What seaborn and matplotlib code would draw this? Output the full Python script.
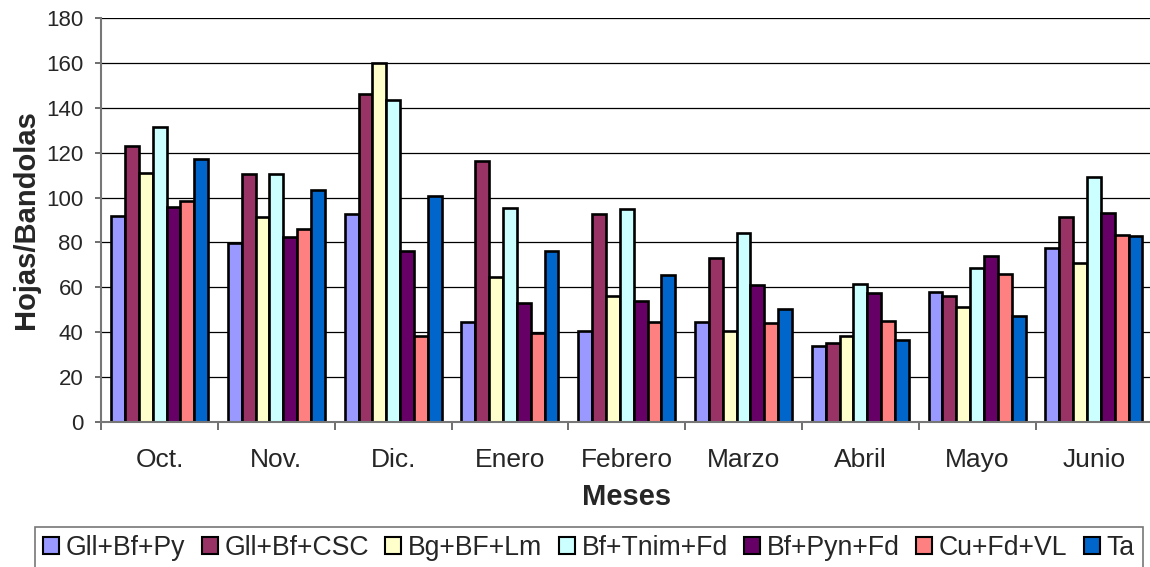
import pandas as pd
import seaborn as sns
import matplotlib.pyplot as plt
from matplotlib.patches import Patch

# months on the x axis
meses = ['Oct.', 'Nov.', 'Dic.', 'Enero', 'Febrero', 'Marzo', 'Abril', 'Mayo', 'Junio']

# one list per treatment
gll_bf_py = [92.0, 79.6, 92.6, 44.3, 40.3, 44.3, 33.6, 58.1, 77.3]
gll_bf_csc = [122.8, 110.3, 146.0, 116.4, 92.8, 73.2, 35.2, 56.2, 91.4]
bg_bf_lm = [110.8, 91.4, 160.0, 64.8, 55.9, 40.6, 38.5, 51.3, 70.9]
bf_tnim_fd = [131.6, 110.5, 143.6, 95.5, 95.0, 84.0, 61.4, 68.6, 109.1]
bf_pyn_fd = [95.6, 82.2, 76.3, 53.2, 53.7, 60.8, 57.4, 73.8, 93.2]
cu_fd_vl = [98.4, 85.9, 38.1, 39.6, 44.3, 44.0, 45.1, 65.7, 83.4]
ta = [117.0, 103.3, 100.7, 76.0, 65.6, 50.3, 36.3, 47.3, 83.0]

tratamientos = ['Gll+Bf+Py', 'Gll+Bf+CSC', 'Bg+BF+Lm', 'Bf+Tnim+Fd',
                'Bf+Pyn+Fd', 'Cu+Fd+VL', 'Ta']
colores = ['#9999FF', '#993366', '#FFFFCC', '#CCFFFF',
           '#660066', '#FF8080', '#0066CC']

series = [gll_bf_py, gll_bf_csc, bg_bf_lm, bf_tnim_fd, bf_pyn_fd, cu_fd_vl, ta]
rows = []
for name, vals in zip(tratamientos, series):
    for m, v in zip(meses, vals):
        rows.append({'Mes': m, 'Tratamiento': name, 'Valor': v})
df = pd.DataFrame(rows)

sns.set_style('white')
plt.rcParams['font.family'] = ['Liberation Sans', 'DejaVu Sans']

fig = plt.figure(figsize=(11.5, 5.67), dpi=100)
ax = fig.add_axes([0.088, 0.256, 0.914, 0.712])

sns.barplot(data=df, x='Mes', y='Valor', hue='Tratamiento', order=meses,
            hue_order=tratamientos, palette=colores, width=0.83,
            edgecolor='black', linewidth=1.9, saturation=1, ax=ax, legend=False)

ax.set_ylim(0, 180)
ax.set_xlim(-0.5, len(meses) - 0.5)
ax.set_yticks(range(0, 181, 20))
ax.yaxis.grid(True, color='black', linewidth=0.9)
ax.set_axisbelow(True)

# category boundaries get the little ticks, labels sit in the middle
ax.set_xticks([i - 0.5 for i in range(len(meses) + 1)], minor=True)
ax.tick_params(axis='x', which='major', length=0, labelsize=19, pad=19)
ax.tick_params(axis='x', which='minor', length=6, width=1.2, color='#555555', bottom=True)
ax.tick_params(axis='y', length=4, width=1.2, color='#555555', labelsize=16, left=True, pad=9)

for s in ['top', 'right']:
    ax.spines[s].set_visible(False)
for s in ['left', 'bottom']:
    ax.spines[s].set_color('#777777')
    ax.spines[s].set_linewidth(1.5)

ax.set_xlabel('Meses', fontsize=21, fontweight='bold', labelpad=8)
ax.set_ylabel('Hojas/Bandolas', fontsize=21, fontweight='bold', labelpad=4)

handles = [Patch(facecolor=c, edgecolor='black', linewidth=1.5) for c in colores]
leg = fig.legend(handles, tratamientos, loc='upper left', bbox_to_anchor=(0.0304, 0.0705),
                 ncol=7, fontsize=19.2, frameon=True, fancybox=False,
                 handlelength=0.6, handleheight=0.6, handletextpad=0.25,
                 columnspacing=0.62, borderpad=0.3, borderaxespad=0)
leg.get_frame().set_edgecolor('#555555')
leg.get_frame().set_linewidth(1.2)

fig.savefig('out.png', dpi=100)
